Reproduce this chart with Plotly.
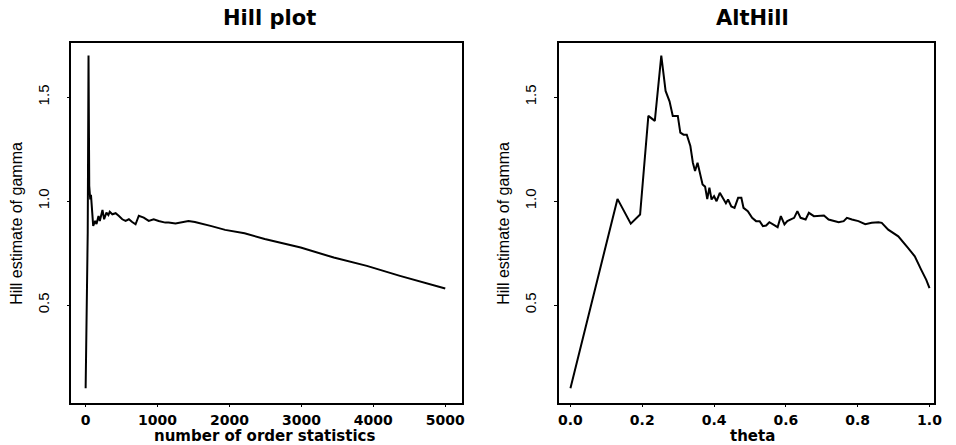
import plotly.graph_objects as go

# ---- data ----
hill_k = [1, 30, 41, 51, 65, 75, 106, 134, 152, 180, 198, 235, 258, 290, 317, 336, 372,
          418, 464, 510, 556, 602, 648, 695, 740, 809, 878, 947, 1016, 1108, 1154, 1250,
          1430, 1520, 1750, 1940, 2210, 2300, 2490, 2990, 3450, 3910, 4370, 5000]
hill_gamma = [0.10, 0.85, 1.70, 1.074, 1.008, 1.03, 0.881, 0.905, 0.89, 0.929, 0.905, 0.958,
              0.913, 0.945, 0.933, 0.949, 0.937, 0.942, 0.929, 0.913, 0.905, 0.913, 0.90,
              0.889, 0.93, 0.921, 0.905, 0.913, 0.905, 0.897, 0.897, 0.893, 0.905, 0.90,
              0.88, 0.862, 0.846, 0.837, 0.818, 0.777, 0.729, 0.689, 0.641, 0.58]

alt_theta = [0.0, 0.081, 0.131, 0.168, 0.194, 0.217, 0.235, 0.253, 0.265, 0.276, 0.285,
             0.293, 0.299, 0.306, 0.315, 0.324, 0.334, 0.341, 0.347, 0.354, 0.360, 0.368,
             0.375, 0.381, 0.387, 0.393, 0.400, 0.407, 0.416, 0.425, 0.433, 0.439, 0.448,
             0.457, 0.467, 0.476, 0.482, 0.494, 0.506, 0.517, 0.527, 0.536, 0.545, 0.554,
             0.568, 0.577, 0.586, 0.596, 0.604, 0.614, 0.623, 0.632, 0.641, 0.655, 0.664,
             0.678, 0.692, 0.706, 0.719, 0.733, 0.747, 0.761, 0.770, 0.784, 0.802, 0.821,
             0.839, 0.858, 0.867, 0.885, 0.913, 0.940, 0.959, 0.977, 0.991, 1.0]
alt_gamma = [0.10, 0.663, 1.011, 0.892, 0.936, 1.41, 1.386, 1.70, 1.53, 1.48, 1.41,
             1.41, 1.41, 1.33, 1.32, 1.32, 1.265, 1.185, 1.145, 1.185, 1.137, 1.08,
             1.07, 1.01, 1.065, 1.008, 1.024, 1.0, 1.04, 1.016, 0.99, 1.008, 0.975,
             0.968, 1.016, 1.016, 0.968, 0.952, 0.92, 0.904, 0.904, 0.88, 0.883, 0.899,
             0.885, 0.875, 0.928, 0.888, 0.904, 0.912, 0.92, 0.952, 0.92, 0.912, 0.944,
             0.928, 0.928, 0.931, 0.912, 0.904, 0.899, 0.904, 0.92, 0.912, 0.904, 0.889,
             0.896, 0.899, 0.896, 0.863, 0.831, 0.775, 0.735, 0.67, 0.622, 0.582]

y_ticks = [0.5, 1.0, 1.5]
y_ticktext = ["0.5", "1.0", "1.5"]
hill_xticks = [0, 1000, 2000, 3000, 4000, 5000]
alt_xticks = [0.0, 0.2, 0.4, 0.6, 0.8, 1.0]
alt_xticktext = ["0.0", "0.2", "0.4", "0.6", "0.8", "1.0"]

W, H = 956, 445
fig = go.Figure()
fig.add_trace(go.Scatter(x=hill_k, y=hill_gamma, mode="lines",
                         line=dict(color="black", width=2), xaxis="x", yaxis="y",
                         showlegend=False, hoverinfo="skip"))
fig.add_trace(go.Scatter(x=alt_theta, y=alt_gamma, mode="lines",
                         line=dict(color="black", width=2), xaxis="x2", yaxis="y2",
                         showlegend=False, hoverinfo="skip"))

bold_font = dict(family="DejaVu Sans", size=14, color="black", weight="bold")
narrow_font = dict(family="Liberation Sans Narrow, Arial Narrow, Liberation Sans",
                   size=15, color="black")

def xaxis(domain, rng, tickvals, ticktext, anchor):
    return dict(domain=domain, range=rng, tickvals=tickvals, ticktext=ticktext,
                showline=True, linecolor="black", linewidth=1.5, mirror=True,
                ticks="outside", ticklen=3, tickcolor="black", tickwidth=1,
                showgrid=False, zeroline=False, anchor=anchor, tickfont=bold_font,
                ticklabelstandoff=1)

def yaxis(domain, anchor):
    return dict(domain=domain, range=[0.032, 1.762], tickvals=y_ticks, ticktext=y_ticktext,
                showline=True, linecolor="black", linewidth=1.5, mirror=True,
                ticks="outside", ticklen=3, tickcolor="black", tickwidth=1,
                showgrid=False, zeroline=False, anchor=anchor, tickangle=-90,
                tickfont=narrow_font, ticklabelstandoff=12)

ydom = [(H - 402.5) / H, (H - 42.7) / H]
fig.update_layout(
    width=W, height=H, margin=dict(l=0, r=0, t=0, b=0),
    paper_bgcolor="white", plot_bgcolor="white",
    xaxis=xaxis([72 / W, 466 / W], [-197, 5234], hill_xticks,
                [str(v) for v in hill_xticks], "y"),
    yaxis=yaxis(ydom, "x"),
    xaxis2=xaxis([563.3 / W, 941.7 / W], [-0.033, 1.012], alt_xticks, alt_xticktext, "y2"),
    yaxis2=yaxis(ydom, "x2"),
)

def ann(text, xpx, ypx, font, angle=0):
    fig.add_annotation(text=text, x=xpx / W, y=(H - ypx) / H, xref="paper", yref="paper",
                       showarrow=False, xanchor="center", yanchor="middle",
                       textangle=angle, font=font)

title_font = dict(family="DejaVu Sans", size=21, color="black", weight="bold")
xtitle_font = dict(family="DejaVu Sans", size=15, color="black", weight="bold")
ytitle_font = dict(family="Liberation Sans Narrow, Arial Narrow, Liberation Sans",
                   size=16, color="black")

ann("Hill plot", 272, 18, title_font)
ann("AltHill", 759, 18, title_font)
ann("number of order statistics", 267, 436, xtitle_font)
ann("theta", 759, 436, xtitle_font)
ann("Hill estimate of gamma", 17, 223, ytitle_font, -90)
ann("Hill estimate of gamma", 508, 223, ytitle_font, -90)

fig.write_html("out.html", config={"displayModeBar": False},
               post_script="document.body.style.margin='0';document.body.style.overflow='hidden';")
